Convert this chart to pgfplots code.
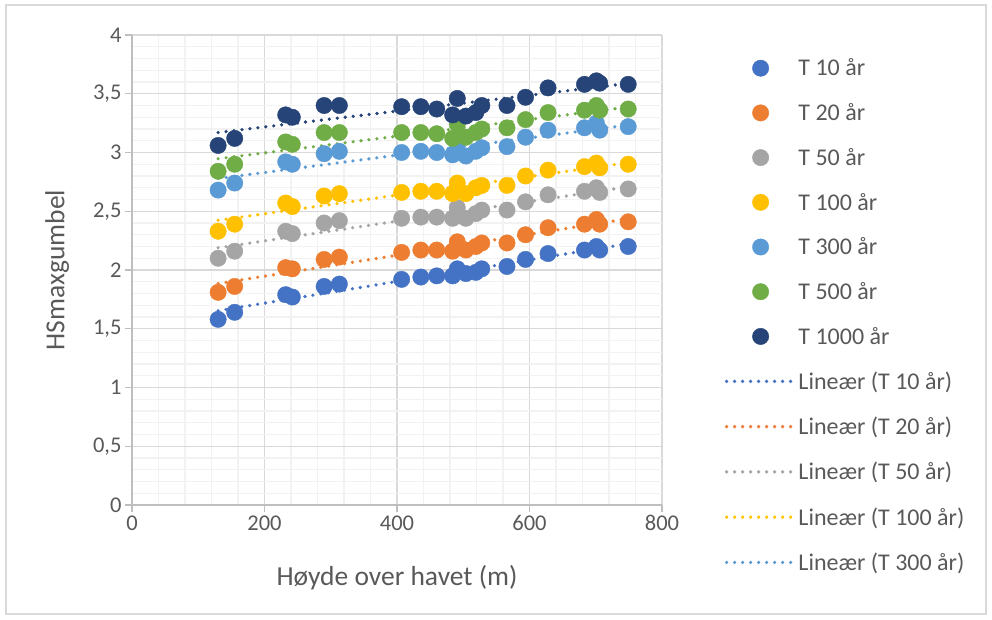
\documentclass[border=0pt]{standalone}
\usepackage{pgfplots}
\usepackage{pgfplotstable}
\pgfplotsset{compat=1.18}
\usepackage{fontspec}
\setmainfont{Carlito}
\definecolor{c1}{HTML}{4472C4}
\definecolor{c2}{HTML}{ED7D31}
\definecolor{c3}{HTML}{A5A5A5}
\definecolor{c4}{HTML}{FFC000}
\definecolor{c5}{HTML}{5B9BD5}
\definecolor{c6}{HTML}{70AD47}
\definecolor{c7}{HTML}{264478}
\definecolor{txt}{HTML}{595959}
\definecolor{majg}{HTML}{D9D9D9}
\definecolor{ming}{HTML}{F2F2F2}
\definecolor{axl}{HTML}{BFBFBF}

\pgfplotstableread{
x   T10  T20  T50  T100 T300 T500 T1000
130 1.58 1.81 2.10 2.33 2.68 2.84 3.06
155 1.64 1.86 2.16 2.39 2.74 2.90 3.12
232 1.79 2.02 2.33 2.57 2.92 3.09 3.32
242 1.77 2.01 2.31 2.54 2.90 3.07 3.30
290 1.86 2.09 2.40 2.63 2.99 3.17 3.40
313 1.88 2.11 2.42 2.65 3.01 3.17 3.40
407 1.92 2.15 2.44 2.66 3.00 3.17 3.39
436 1.94 2.17 2.45 2.67 3.01 3.17 3.39
460 1.95 2.17 2.45 2.67 3.00 3.16 3.37
484 1.95 2.16 2.44 2.65 2.98 3.12 3.32
491 2.01 2.24 2.53 2.74 3.07 3.24 3.46
504 1.97 2.17 2.44 2.65 2.97 3.13 3.31
519 1.98 2.20 2.48 2.70 3.01 3.17 3.34
528 2.01 2.23 2.51 2.72 3.04 3.20 3.40
566 2.03 2.23 2.51 2.72 3.05 3.21 3.40
594 2.09 2.30 2.58 2.80 3.13 3.28 3.47
628 2.14 2.36 2.64 2.85 3.19 3.34 3.55
683 2.17 2.39 2.67 2.88 3.21 3.36 3.58
701 2.20 2.43 2.70 2.91 3.25 3.40 3.61
706 2.17 2.39 2.66 2.87 3.19 3.36 3.59
749 2.20 2.41 2.69 2.90 3.22 3.37 3.58
}\datatable

\begin{document}
\begin{tikzpicture}
\useasboundingbox (0,0) rectangle (992pt,619pt);
\draw[color=majg, line width=1.2pt] (6pt,5pt) rectangle (986pt,614pt);
\begin{axis}[
  at={(132pt,114pt)}, anchor=south west,
  scale only axis, width=530pt, height=470pt,
  xmin=0, xmax=800, ymin=0, ymax=4,
  xtick={0,200,...,800}, ytick={0,0.5,...,4},
  minor x tick num=4, minor y tick num=4,
  grid=both,
  major grid style={draw=majg, line width=1.3pt},
  minor grid style={draw=ming, line width=1.3pt},
  axis lines*=left,
  axis line style={draw=axl, line width=1.5pt},
  tick align=outside, major tick length=7pt, minor tick length=0pt,
  tick style={draw=axl, line width=1.3pt},
  /pgf/number format/assume math mode=true,
  /pgf/number format/use comma,
  tick label style={font=\fontsize{22.5}{26}\selectfont, text=txt},
  yticklabel style={/pgf/number format/fixed},
  xticklabel style={/pgf/number format/1000 sep={}},
  xlabel={Høyde over havet (m)}, ylabel={HSmaxgumbel},
  label style={font=\fontsize{27.5}{32}\selectfont, text=txt},
  xlabel style={at={(axis description cs:0.5,-0.155)}, anchor=center},
  ylabel style={at={(axis description cs:-0.141,0.5)}, anchor=center},
  legend image code/.code={\draw[mark repeat=2,mark phase=2,#1] plot coordinates {(0pt,0pt) (34pt,0pt) (68pt,0pt)};},
  legend cell align=left,
  legend style={at={(axis description cs:1.1125,0.958)}, anchor=north west, draw=none, fill=none,
    font=\fontsize{24}{28}\selectfont, text=txt, row sep=22.2pt},
  clip=false,
]
\pgfplotsset{pts/.style={only marks, mark=*, mark size=8.2pt}}
\addplot[pts, color=c1] table[x=x,y=T10] \datatable;
\addlegendentry{T 10 år}
\addplot[pts, color=c2] table[x=x,y=T20] \datatable;
\addlegendentry{T 20 år}
\addplot[pts, color=c3] table[x=x,y=T50] \datatable;
\addlegendentry{T 50 år}
\addplot[pts, color=c4] table[x=x,y=T100] \datatable;
\addlegendentry{T 100 år}
\addplot[pts, color=c5] table[x=x,y=T300] \datatable;
\addlegendentry{T 300 år}
\addplot[pts, color=c6] table[x=x,y=T500] \datatable;
\addlegendentry{T 500 år}
\addplot[pts, color=c7] table[x=x,y=T1000] \datatable;
\addlegendentry{T 1000 år}
\pgfplotsset{trend/.style={no marks, line width=3.6pt, dash pattern=on 0pt off 8pt, line cap=round}}
\addplot[trend, color=c1] table[x=x, y={create col/linear regression={y=T10}}] \datatable;
\addlegendentry{Lineær (T 10 år)}
\addplot[trend, color=c2] table[x=x, y={create col/linear regression={y=T20}}] \datatable;
\addlegendentry{Lineær (T 20 år)}
\addplot[trend, color=c3] table[x=x, y={create col/linear regression={y=T50}}] \datatable;
\addlegendentry{Lineær (T 50 år)}
\addplot[trend, color=c4] table[x=x, y={create col/linear regression={y=T100}}] \datatable;
\addlegendentry{Lineær (T 100 år)}
\addplot[trend, color=c5] table[x=x, y={create col/linear regression={y=T300}}] \datatable;
\addlegendentry{Lineær (T 300 år)}
\addplot[trend, color=c6, forget plot] table[x=x, y={create col/linear regression={y=T500}}] \datatable;
\addplot[trend, color=c7, forget plot] table[x=x, y={create col/linear regression={y=T1000}}] \datatable;
\end{axis}
\end{tikzpicture}
\end{document}
